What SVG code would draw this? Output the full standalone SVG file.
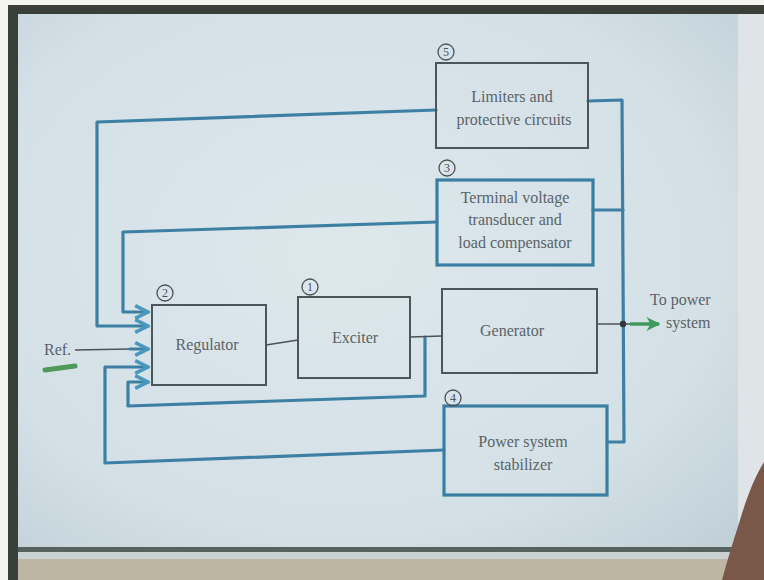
<svg xmlns="http://www.w3.org/2000/svg" width="764" height="580" viewBox="0 0 764 580">
<style>
.box{fill:none;stroke:#4b555a;stroke-width:2}
.bbox{fill:none;stroke:#3a7fa3;stroke-width:3.2}
.wire{fill:none;stroke:#3d80a4;stroke-width:3.2;stroke-linejoin:round;stroke-linecap:round}
.thin{fill:none;stroke:#4a5256;stroke-width:1.6}
.txt{font-family:"Liberation Serif","DejaVu Serif",serif;font-size:16px;fill:#5a6368;text-anchor:middle}
.num{font-family:"Liberation Serif","DejaVu Serif",serif;font-size:12px;fill:#4a5256;text-anchor:middle}
.ring{fill:none;stroke:#4a5256;stroke-width:1.3}
</style>
<defs>
<radialGradient id="paper" cx="0.45" cy="0.45" r="0.75">
<stop offset="0" stop-color="#dde8ec"/>
<stop offset="0.7" stop-color="#d3e0e6"/>
<stop offset="1" stop-color="#c2d1d8"/>
</radialGradient>
<marker id="barr" viewBox="0 0 10 10" refX="9" refY="5" markerWidth="5" markerHeight="5" orient="auto" markerUnits="strokeWidth">
<path d="M1,1 L9,5 L1,9" fill="none" stroke="#4b98bf" stroke-width="2.2"/>
</marker>
<marker id="garr" viewBox="0 0 10 10" refX="9" refY="5" markerWidth="4" markerHeight="4" orient="auto" markerUnits="strokeWidth">
<path d="M0,0 L10,5 L0,10 L3,5 Z" fill="#3f9a5e"/>
</marker>
</defs>
<!-- background / photo frame -->
<rect x="0" y="0" width="764" height="580" fill="#f4f4f2"/>
<rect x="8" y="5" width="756" height="575" fill="#3a3f3a"/>
<rect x="18" y="14" width="746" height="538" fill="#dfe5e6"/>
<rect x="18" y="14" width="720" height="533" fill="url(#paper)"/>
<rect x="18" y="547" width="746" height="5" fill="#55625e"/>
<rect x="18" y="552" width="746" height="7" fill="#c9d2d0"/>
<rect x="18" y="559" width="746" height="21" fill="#bdb6a2"/>
<path d="M764,462 C754,478 746,500 740,520 C732,545 726,565 722,580 L764,580 Z" fill="#7a5849"/>

<g id="connectors">
<path class="wire" d="M588,101 L622,100 L624,442 L607,442"/>
<path class="wire" d="M593,210 L623,210"/>
<path class="wire" d="M436,110 L97,122 L97,326 L148,326" marker-end="url(#barr)"/>
<path class="wire" d="M437,222 L123,232 L123,312 L148,312" marker-end="url(#barr)"/>
<path class="wire" d="M444,450 L105,463 L105,367 L148,367" marker-end="url(#barr)"/>
<path class="wire" d="M425,337 L425,396 L128,406 L128,382 L148,382" marker-end="url(#barr)"/>
<path class="thin" d="M75,350 L130,349"/>
<path class="wire" d="M130,349 L148,349" marker-end="url(#barr)"/>
<path class="thin" d="M266,345 L298,340"/>
<path class="thin" d="M410,337 L442,336"/>
<path class="thin" d="M597,324 L640,324"/>
<path d="M630,324 L659,324" fill="none" stroke="#3f9a5e" stroke-width="3.5" marker-end="url(#garr)"/>
<circle cx="623" cy="324" r="3.2" fill="#2f3a3e"/>
<path d="M45,370 L75,366" stroke="#4f9a5a" stroke-width="5" stroke-linecap="round"/>
</g>

<g id="limiters">
<rect class="box" x="436" y="63" width="152" height="85"/>
<circle class="ring" cx="446" cy="52" r="8"/><text class="num" x="446" y="56">5</text>
<text class="txt" x="512" y="102">Limiters and</text>
<text class="txt" x="514" y="125">protective circuits</text>
</g>
<g id="transducer">
<rect class="bbox" x="437" y="180" width="156" height="85"/>
<circle class="ring" cx="447" cy="168" r="8"/><text class="num" x="447" y="172">3</text>
<text class="txt" x="515" y="203">Terminal voltage</text>
<text class="txt" x="515" y="225">transducer and</text>
<text class="txt" x="515" y="248">load compensator</text>
</g>
<g id="regulator">
<rect class="box" x="152" y="305" width="114" height="80"/>
<circle class="ring" cx="165" cy="293" r="8"/><text class="num" x="165" y="297">2</text>
<text class="txt" x="207" y="350">Regulator</text>
</g>
<g id="exciter">
<rect class="box" x="298" y="297" width="112" height="81"/>
<circle class="ring" cx="310" cy="287" r="8"/><text class="num" x="310" y="291">1</text>
<text class="txt" x="355" y="343">Exciter</text>
</g>
<g id="generator">
<rect class="box" x="442" y="289" width="155" height="84"/>
<text class="txt" x="512" y="336">Generator</text>
</g>
<g id="pss">
<rect class="bbox" x="444" y="406" width="163" height="89"/>
<circle class="ring" cx="453" cy="398" r="8"/><text class="num" x="453" y="402">4</text>
<text class="txt" x="523" y="447">Power system</text>
<text class="txt" x="523" y="470">stabilizer</text>
</g>
<g id="labels">
<text class="txt" x="44" y="355" style="text-anchor:start">Ref.</text>
<text class="txt" x="650" y="305" style="text-anchor:start">To power</text>
<text class="txt" x="666" y="328" style="text-anchor:start">system</text>
</g>
</svg>
